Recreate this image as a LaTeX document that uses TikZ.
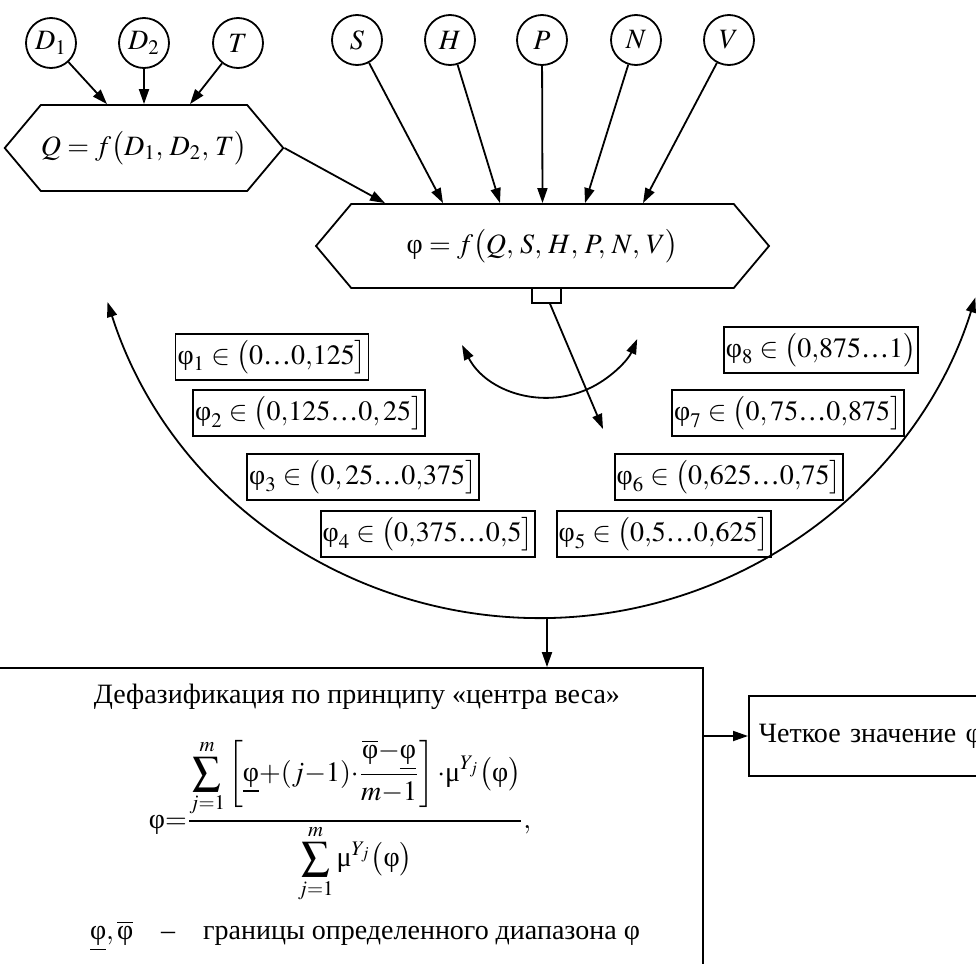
\documentclass[tikz,border=0pt]{standalone}
\usepackage{amsmath}
\usepackage{mathptmx}
\usepackage[no-math]{fontspec}
\setmainfont{Liberation Serif}
\usetikzlibrary{shapes.symbols, calc, arrows.meta}

\newcommand{\fii}{\text{φ}}
\newcommand{\mmu}{\text{μ}}
\newcommand{\dts}{\text{…}}

\begin{document}
\begin{tikzpicture}[x=0.5pt, y=-0.5pt, line width=0.9pt,
    >={Triangle[length=7.5pt, width=5pt]},
    every node/.style={font=\fontsize{14}{17}\selectfont},
    var/.style={circle, draw, minimum size=25pt, inner sep=0pt},
    hexbox/.style={draw, signal, signal to=west and east, signal pointer angle=100, inner sep=0pt},
    rangebox/.style={draw, inner xsep=1pt, inner ysep=3pt}]

    \useasboundingbox (0,0) rectangle (976,964);
    \clip (0,0) rectangle (976,964);

    % Input variables
    \node[var] (D1) at (51,43)  {$D_1$};
    \node[var] (D2) at (144,43) {$D_2$};
    \node[var] (T)  at (238,43) {$T$};
    \node[var] (S)  at (357,40) {$S$};
    \node[var] (H)  at (450,40) {$H$};
    \node[var] (P)  at (542,40) {$P$};
    \node[var] (N)  at (636,40) {$N$};
    \node[var] (V)  at (729,40) {$V$};

    % Function blocks
    \node[hexbox, minimum width=135pt, minimum height=43pt] (Q) at (144,148) {$Q = f\bigl(D_1,\, D_2,\, T\bigr)$};
    \node[hexbox, minimum width=226.5pt, minimum height=42pt] (phi) at (542.5,246) {$\fii = f\bigl(Q,\, S,\, H,\, P,\, N,\, V\bigr)$};
    \node[draw, minimum width=14.5pt, minimum height=7.5pt, inner sep=0pt] (plug) at (546.5,295.5) {};

    % Inputs into the blocks
    \draw[->] (D1) -- ($(Q.north)+(-37,0)$);
    \draw[->] (D2) -- (Q.north);
    \draw[->] (T) -- ($(Q.north)+(46,0)$);
    \draw[->] (Q.east) -- ($(phi.north)+(-157.5,0)$);
    \draw[->] (S) -- ($(phi.north)+(-99.5,0)$);
    \draw[->] (H) -- ($(phi.north)+(-42.5,0)$);
    \draw[->] (P) -- (phi.north);
    \draw[->] (N) -- ($(phi.north)+(42.5,0)$);
    \draw[->] (V) -- ($(phi.north)+(100.5,0)$);

    % Output ranges
    \node[rangebox] (r1) at (272,357) {$\fii_1\in\bigl(0\dts0{,}125\bigr]$};
    \node[rangebox] (r2) at (309,413) {$\fii_2\in\bigl(0{,}125\dts0, 25\bigr]$};
    \node[rangebox] (r3) at (363,477) {$\fii_3\in\bigl(0, 25\dts0{,}375\bigr]$};
    \node[rangebox] (r4) at (428,534) {$\fii_4\in\bigl(0{,}375\dts0{,}5\bigr]$};
    \node[rangebox] (r5) at (664,534) {$\fii_5\in\bigl(0{,}5\dts0{,}625\bigr]$};
    \node[rangebox] (r6) at (729,477) {$\fii_6\in\bigl(0{,}625\dts0{,}75\bigr]$};
    \node[rangebox] (r7) at (788,413) {$\fii_7\in\bigl(0, 75\dts0{,}875\bigr]$};
    \node[rangebox] (r8) at (821,350) {$\fii_8\in\bigl(0{,}875\dts1\bigr)$};

    % Arcs and selector
    \coordinate (bigL) at (107.5,302);
    \draw[<->] (bigL) arc[start angle=162.2, end angle=17.2, radius=455];
    \coordinate (smallL) at (462,345);
    \draw[<->] (smallL) arc[start angle=152.7, end angle=23.4, radius=97];
    \coordinate (sel) at (603,429);
    \draw[->] (plug) -- (sel);
    \coordinate (arcbot) at (547,618);

    % Defuzzification
    \node[draw, minimum width=356.5pt, minimum height=166pt] (defuzz) at (346.5,834) {};
    \draw[->] (arcbot) -- (arcbot |- defuzz.north);
    \node (title) at (357,697) {Дефазификация по принципу «центра веса»};
    \node (formula) at (340,821) {$\fii{=}\dfrac{\displaystyle\sum_{j=1}^{m}\left[\underline{\fii}{+}(j{-}1){\cdot}\frac{\overline{\fii}{-}\underline{\fii}}{m{-}1}\right]{\cdot}\mmu^{Y_j}\bigl(\fii\bigr)}{\displaystyle\sum_{j=1}^{m}\mmu^{Y_j}\bigl(\fii\bigr)},$};
    \node (legend) at (365,936) {$\underline{\fii}, \overline{\fii}$\quad–\quad границы определенного диапазона $\fii$};
    \node[draw, anchor=west, minimum height=40pt, text width=125pt, align=left, inner sep=5pt] (crisp) at (748,736) {\mbox{Четкое значение $\fii$}};
    \draw[->] (crisp.west -| defuzz.east) -- (crisp.west);
\end{tikzpicture}
\end{document}
